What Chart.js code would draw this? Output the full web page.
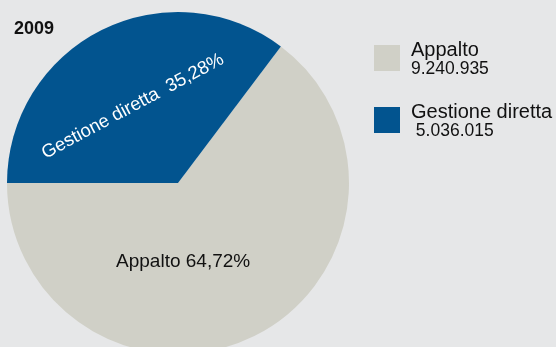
<!DOCTYPE html>
<html>
<head>
<meta charset="utf-8">
<script src="https://cdn.jsdelivr.net/npm/chart.js@4/dist/chart.umd.min.js"></script>
<style>
  html, body {
    margin: 0;
    padding: 0;
    background: #e6e7e8;
    overflow: hidden;
    font-family: "Liberation Sans", Arial, sans-serif;
  }
  #wrap {
    position: relative;
    width: 556px;
    height: 360px;
  }
  #year {
    position: absolute;
    left: 14px;
    top: 18px;
    font-weight: bold;
    font-size: 18px;
    color: #111;
  }
  #legend {
    position: absolute;
    left: 374px;
    top: 40px;
  }
  .item {
    position: relative;
    height: 62px;
  }
  .swatch {
    position: absolute;
    left: 0;
    top: 5px;
    width: 26px;
    height: 26px;
  }
  .name {
    position: absolute;
    left: 37px;
    top: 0;
    font-size: 20px;
    line-height: 19px;
    color: #111;
    white-space: nowrap;
  }
  .num {
    position: absolute;
    left: 37px;
    top: 20px;
    font-size: 17.5px;
    line-height: 17px;
    color: #111;
    white-space: nowrap;
  }
</style>
</head>
<body>
<div id="wrap">
  <canvas id="pie" width="556" height="360"></canvas>
  <div id="year">2009</div>
  <div id="legend"></div>
</div>
<script>
const categories = ["Appalto", "Gestione diretta"];
const amounts = [9240935, 5036015];
const amountLabels = ["9.240.935", " 5.036.015"];
const percentLabels = ["64,72%", "35,28%"];
const colors = ["#d0d0c7", "#02548f"];
const labelColors = ["#111111", "#ffffff"];

// legend on the right
const legend = document.getElementById("legend");
categories.forEach((name, i) => {
  const item = document.createElement("div");
  item.className = "item";
  item.innerHTML =
    `<div class="swatch" style="background:${colors[i]}"></div>` +
    `<div class="name">${name}</div>` +
    `<div class="num">${amountLabels[i].replace(" ", "&nbsp;")}</div>`;
  legend.appendChild(item);
});

// start Appalto where Gestione diretta ends, so Gestione begins at 9 o'clock
const total = amounts.reduce((a, b) => a + b, 0);
const startAngle = (amounts[1] / total) * 360 - 90;

const sliceLabels = {
  id: "sliceLabels",
  afterDatasetsDraw(chart) {
    const ctx = chart.ctx;
    const arcs = chart.getDatasetMeta(0).data;
    ctx.save();
    ctx.textAlign = "center";
    ctx.textBaseline = "middle";

    // Appalto: horizontal, low in the slice
    const a = arcs[0].getProps(["x", "y", "outerRadius"], true);
    ctx.font = '19px "Liberation Sans", Arial, sans-serif';
    ctx.fillStyle = labelColors[0];
    ctx.fillText(
      categories[0] + " " + percentLabels[0],
      a.x + a.outerRadius * 0.03,
      a.y + a.outerRadius * 0.46
    );

    // Gestione diretta: rotated along the slice
    const g = arcs[1].getProps(["x", "y", "startAngle", "endAngle", "outerRadius"], true);
    const mid = (g.startAngle + g.endAngle) / 2;
    const pos = mid - 0.07;
    const r = g.outerRadius * 0.52;
    ctx.translate(g.x + Math.cos(pos) * r, g.y + Math.sin(pos) * r);
    ctx.rotate(mid + Math.PI / 2 - 0.03);
    ctx.font = '18.5px "Liberation Sans", Arial, sans-serif';
    ctx.fillStyle = labelColors[1];
    ctx.fillText(categories[1] + "  " + percentLabels[1], 0, 0);
    ctx.restore();
  },
};

new Chart(document.getElementById("pie").getContext("2d"), {
  type: "pie",
  data: {
    labels: categories,
    datasets: [
      {
        data: amounts,
        backgroundColor: colors,
        borderWidth: 0,
      },
    ],
  },
  options: {
    responsive: false,
    animation: false,
    rotation: startAngle,
    layout: {
      padding: { left: 7, top: 12, right: 207, bottom: 6 },
    },
    plugins: {
      legend: { display: false },
      tooltip: { enabled: false },
    },
  },
  plugins: [sliceLabels],
});
</script>
</body>
</html>
